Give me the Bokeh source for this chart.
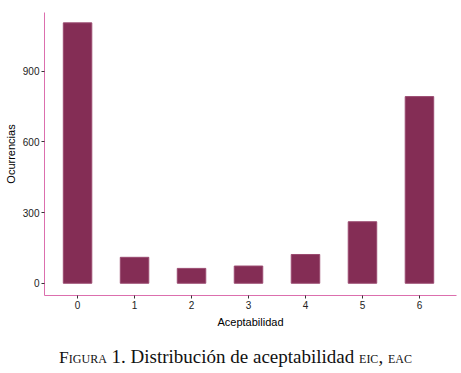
from bokeh.plotting import figure
from bokeh.models import ColumnDataSource, FixedTicker, Range1d, Div
from bokeh.layouts import column
from bokeh.embed import file_html
from bokeh.resources import INLINE

categories = [0, 1, 2, 3, 4, 5, 6]
ocurrencias = [1105, 110, 63, 73, 122, 261, 792]
y_ticks = [0, 300, 600, 900]

src = ColumnDataSource(data=dict(x=categories, top=ocurrencias))

p = figure(width=461, height=335, output_backend="svg", toolbar_location=None,
           x_range=Range1d(-0.58, 6.65), y_range=Range1d(-52, 1149),
           min_border_left=44, min_border_right=5, min_border_top=12, min_border_bottom=40)
p.vbar(x="x", top="top", width=0.5, source=src, fill_color="#842d55",
       line_color="#9a4a70", line_width=1)

p.xgrid.visible = False
p.ygrid.visible = False
p.outline_line_color = None

for ax in (p.xaxis[0], p.yaxis[0]):
    ax.axis_line_color = "#dc6fae"
    ax.axis_line_width = 1
    ax.major_tick_line_color = "#333333"
    ax.major_tick_in = 0
    ax.major_tick_out = 3
    ax.minor_tick_line_color = None
    ax.major_label_text_font = "Liberation Sans"
    ax.major_label_text_font_size = "10px"
    ax.major_label_text_color = "#222222"
    ax.axis_label_text_font = "Liberation Sans"
    ax.axis_label_text_font_size = "11px"
    ax.axis_label_text_font_style = "normal"
    ax.axis_label_text_color = "#000000"
    ax.major_label_standoff = 2
    ax.axis_label_standoff = 3

p.xaxis.ticker = FixedTicker(ticks=categories)
p.yaxis.ticker = FixedTicker(ticks=y_ticks)
p.xaxis.axis_label = "Aceptabilidad"
p.yaxis.axis_label = "Ocurrencias"
p.xaxis[0].axis_label_standoff = 4

sc = "font-variant: small-caps; font-size:0.92em;"
cap = Div(text='<div style="font-family: \'Liberation Serif\', serif; font-size:19px; line-height:22px; color:#111; '
               'text-align:center; width:461px; padding-top:6px;">'
               f'<span style="{sc}">Figura</span> 1. Distribución de aceptabilidad '
               f'<span style="{sc}">eic</span>, '
               f'<span style="{sc}">eac</span></div>',
          width=461, height=36)

layout = column(p, cap, spacing=0)
open("out.html", "w").write(file_html(layout, INLINE))
